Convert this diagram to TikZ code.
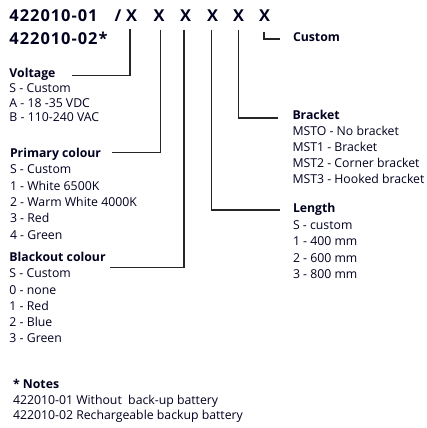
\documentclass[tikz,border=0pt]{standalone}
\usepackage{fontspec}
\setmainfont{Open Sans}
\begin{document}
\begin{tikzpicture}[x=0.75pt,y=-0.75pt,
  every node/.style={inner sep=0pt,outer sep=0pt,text=black!88!blue},
  title/.style={anchor=base west,font=\bfseries\fontsize{12.3}{14}\selectfont\addfontfeature{LetterSpace=6}},
  xch/.style={anchor=base,font=\bfseries\fontsize{12.3}{14}\selectfont},
  head/.style={anchor=base west,font=\bfseries\fontsize{9.2}{11}\selectfont},
  item/.style={anchor=base west,font=\fontsize{9.2}{11}\selectfont},
  conn/.style={draw=black!85,line width=0.8pt}]
\useasboundingbox (0,0) rectangle (426,428);
% title
\node[title] (t1) at (9.5,21.7) {422010-01};
\node[title] (t2) at (9.5,45) {422010-02*};
\node[xch] (sl) at (118,21.7) {/};
\node[xch] (X1) at (131.5,21.7) {X};
\node[xch] (X2) at (159,21.7) {X};
\node[xch] (X3) at (185.5,21.7) {X};
\node[xch] (X4) at (212.5,21.7) {X};
\node[xch] (X5) at (238.5,21.7) {X};
\node[xch] (X6) at (264.5,21.7) {X};
% left blocks
\node[head] (volt) at (9.5,78) {Voltage};
\node[item] (v1) at (9.5,93) {S - Custom};
\node[item] (v2) at (9.5,107) {A - 18 -35 VDC};
\node[item] (v3) at (9.5,121) {B - 110-240 VAC};
\node[head] (prim) at (10,157) {Primary colour};
\node[item] (p1) at (10,173) {S - Custom};
\node[item] (p2) at (10,190) {1 - White 6500K};
\node[item] (p3) at (10,206) {2 - Warm White 4000K};
\node[item] (p4) at (10,222) {3 - Red};
\node[item] (p5) at (10,239) {4 - Green};
\node[head] (blk) at (9.5,261) {Blackout colour};
\node[item] (b1) at (9.5,277.5) {S - Custom};
\node[item] (b2) at (9.5,294) {0 - none};
\node[item] (b3) at (9.5,310) {1 - Red};
\node[item] (b4) at (9.5,326) {2 - Blue};
\node[item] (b5) at (9.5,342) {3 - Green};
\node[head] (notes) at (13,388.3) {* Notes};
\node[item] (n1) at (13,404.3) {422010-01 Without \ back-up battery};
\node[item] (n2) at (13,419.3) {422010-02 Rechargeable backup battery};
% right blocks
\node[head] (cust) at (293,42) {Custom};
\node[head] (brk) at (292.5,119) {Bracket};
\node[item] (k1) at (292.5,135) {MSTO - No bracket};
\node[item] (k2) at (292.5,151.5) {MST1 - Bracket};
\node[item] (k3) at (292.5,167.5) {MST2 - Corner bracket};
\node[item] (k4) at (292.5,183.5) {MST3 - Hooked bracket};
\node[head] (len) at (293,212.5) {Length};
\node[item] (l1) at (293,229) {S - custom};
\node[item] (l2) at (293,245.5) {1 - 400 mm};
\node[item] (l3) at (293,262) {2 - 600 mm};
\node[item] (l4) at (293,278) {3 - 800 mm};
% connector ends
\coordinate (cv) at (72,75.5);
\coordinate (cp) at (112,152.5);
\coordinate (cb) at (110,267.5);
\coordinate (cl) at (280,210);
\coordinate (ck) at (278,118);
\coordinate (cc) at (280,39);
\draw[conn] ([shift={(-1.5,7.5)}]X1.base) |- (cv);
\draw[conn] ([shift={(1.5,8)}]X2.base) |- (cp);
\draw[conn] ([shift={(-1.5,8)}]X3.base) |- (cb);
\draw[conn] ([shift={(-1,8)}]X4.base) |- (cl);
\draw[conn] ([shift={(0,8)}]X5.base) |- (ck);
\draw[conn] ([shift={(-0.5,10.5)}]X6.base) |- (cc);
\end{tikzpicture}
\end{document}
